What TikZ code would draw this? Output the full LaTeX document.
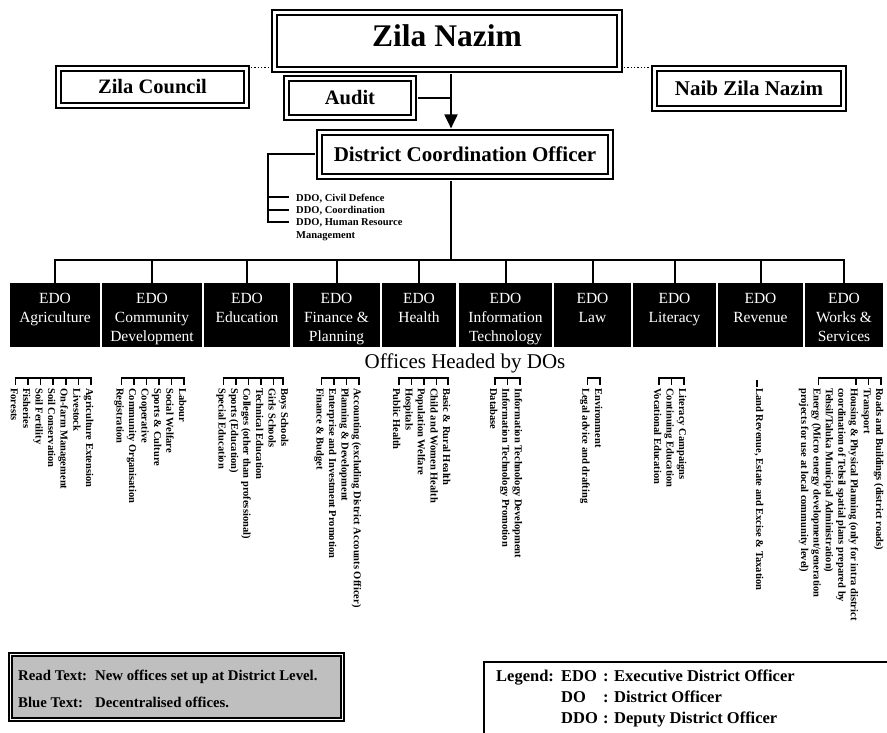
\documentclass[tikz,border=0pt]{standalone}
\usepackage{fontspec}
\setmainfont{Liberation Serif}
\usetikzlibrary{arrows.meta}
\begin{document}
\begin{tikzpicture}[x=1pt,y=-1pt,
  dbox/.style={draw=black, double=white, line width=2.2pt, double distance=2.6pt, fill=white, inner sep=0pt,
    text height=14pt, text depth=0pt, font=\bfseries\fontsize{21}{24}\selectfont},
  edobox/.style={fill=black, draw=none, minimum height=64pt, inner sep=0pt},
  edotext/.style={text=white, align=center, anchor=north, inner sep=0pt, font=\fontsize{15.5}{19}\selectfont},
  conn/.style={line width=2pt},
  brk/.style={line width=1.6pt},
  item/.style={rotate=-90, anchor=north west, inner sep=0pt, align=left, font=\bfseries\fontsize{10.5}{12.5}\selectfont},
  ddotext/.style={anchor=north west, inner sep=0pt, align=left, font=\bfseries\fontsize{10.5}{12.5}\selectfont},
  notetext/.style={anchor=base west, inner sep=0pt, font=\bfseries\fontsize{14.8}{17}\selectfont},
  legtext/.style={anchor=base west, inner sep=0pt, font=\bfseries\fontsize{16.5}{20}\selectfont}
]
\useasboundingbox (0,0) rectangle (887,733);
\fill[white] (0,0) rectangle (887,733);

% ---- top boxes ----
\node[dbox, minimum width=345pt, minimum height=57pt, text height=21pt, text depth=9pt,
      font=\bfseries\fontsize{31.5}{36}\selectfont] (zn) at (447,41) {Zila Nazim};
\node[dbox, minimum width=188pt, minimum height=37pt, font=\bfseries\fontsize{20.5}{24}\selectfont] (zc) at (152.5,87) {Zila Council};
\node[dbox, minimum width=127pt, minimum height=39pt, font=\bfseries\fontsize{20.5}{24}\selectfont] (audit) at (350,98) {Audit};
\node[dbox, minimum width=189pt, minimum height=40pt] (nzn) at (749,88.5) {Naib Zila Nazim};
\node[dbox, minimum width=291pt, minimum height=44pt] (dco) at (465,154.5) {District Coordination Officer};

\coordinate (ax) at (451,73);
\coordinate (bus) at (451,260);

\draw[dotted, line width=1.3pt, shorten <=3.5pt, shorten >=3.5pt] (zc.north east) -- (zc.north east -| zn.west);
\draw[dotted, line width=1.3pt, shorten <=3.5pt, shorten >=3.5pt] (zn.east |- nzn.north) -- (nzn.north west);
\draw[conn, shorten <=3.5pt, shorten >=3pt, -{Triangle[length=14pt,width=13pt]}] (zn.south -| ax) -- (dco.north -| ax);
\draw[conn, shorten <=3.5pt] (audit.east) -- (audit.east -| ax);
\draw[conn, shorten <=3.5pt] (dco.south -| ax) -- (bus);

% ---- DDO list ----
\draw[conn, shorten <=3.5pt] (dco.west) -| (268,222) -- (289,222);
\draw[conn] (268,197) -- (289,197);
\draw[conn] (268,210) -- (289,210);
\node[ddotext] (ddo1) at (296,193.5) {DDO, Civil Defence};
\node[ddotext] (ddo2) at (296,206.5) {DDO, Coordination};
\node[ddotext] (ddo3) at (296,218.5) {DDO, Human Resource\\Management};

% ---- EDO boxes ----
\node[edobox, minimum width=90pt] (e1) at (55,315) {};
\node[edobox, minimum width=100pt] (e2) at (152,315) {};
\node[edobox, minimum width=86pt] (e3) at (247,315) {};
\node[edobox, minimum width=87pt] (e4) at (336.5,315) {};
\node[edobox, minimum width=74pt] (e5) at (419,315) {};
\node[edobox, minimum width=93pt] (e6) at (505.5,315) {};
\node[edobox, minimum width=77pt] (e7) at (592.5,315) {};
\node[edobox, minimum width=83pt] (e8) at (674.5,315) {};
\node[edobox, minimum width=85pt] (e9) at (760.5,315) {};
\node[edobox, minimum width=78pt] (e10) at (844,315) {};

\node[edotext] (t1) at (55,293) {EDO\\Agriculture};
\node[edotext] (t2) at (152,293) {EDO\\Community\\Development};
\node[edotext] (t3) at (247,293) {EDO\\Education};
\node[edotext] (t4) at (336.5,293) {EDO\\Finance \&\\Planning};
\node[edotext] (t5) at (419,293) {EDO\\Health};
\node[edotext] (t6) at (505.5,293) {EDO\\Information\\Technology};
\node[edotext] (t7) at (592.5,293) {EDO\\Law};
\node[edotext] (t8) at (674.5,293) {EDO\\Literacy};
\node[edotext] (t9) at (760.5,293) {EDO\\Revenue};
\node[edotext] (t10) at (844,293) {EDO\\Works \&\\Services};

\draw[conn] (e1.north) -- (e1.north |- bus) -- (e10.north |- bus) -- (e10.north);
\foreach \b in {e2,e3,e4,e5,e6,e7,e8,e9}{\draw[conn] (\b.north |- bus) -- (\b.north);}

\node[anchor=base, inner sep=0pt, font=\fontsize{21}{24}\selectfont] (offices) at (465,368.5) {Offices Headed by DOs};

% ---- lists of offices ----
% Agriculture
\draw[brk] (15.4,385) -- (15.4,378) -- (91,378) -- (91,385);
\foreach \c in {28,40.6,53.2,65.8,78.4}{\draw[brk] (\c,378) -- (\c,385);}
\node[item] (a1) at (93.5,388) {Agriculture Extension};
\node[item] (a2) at (80.9,388) {Livestock};
\node[item] (a3) at (68.3,388) {On-farm Management};
\node[item] (a4) at (55.7,388) {Soil Conservation};
\node[item] (a5) at (43.1,388) {Soil Fertility};
\node[item] (a6) at (30.5,388) {Fisheries};
\node[item] (a7) at (17.9,388) {Forests};
% Community
\draw[brk] (121.5,385) -- (121.5,378) -- (184,378) -- (184,385);
\foreach \c in {134,146.5,159,171.5}{\draw[brk] (\c,378) -- (\c,385);}
\node[item] (c1) at (186.5,388) {Labour};
\node[item] (c2) at (174,388) {Social Welfare};
\node[item] (c3) at (161.5,388) {Sports \& Culture};
\node[item] (c4) at (149,388) {Cooperative};
\node[item] (c5) at (136.5,388) {Community Organisation};
\node[item] (c6) at (124,388) {Registration};
% Education
\draw[brk] (223.5,385) -- (223.5,378) -- (283,378) -- (283,385);
\foreach \c in {236,248.5,261,273.5}{\draw[brk] (\c,378) -- (\c,385);}
\node[item] (d1) at (288.5,388) {Boys Schools};
\node[item] (d2) at (276,388) {Girls Schools};
\node[item] (d3) at (263.5,388) {Technical Education};
\node[item] (d4) at (251,388) {Colleges (other than professional)};
\node[item] (d5) at (238.5,388) {Sports (Education)};
\node[item] (d6) at (226,388) {Special Education};
% Finance
\draw[brk] (321.5,385) -- (321.5,378) -- (359,378) -- (359,385);
\foreach \c in {334,346.5}{\draw[brk] (\c,378) -- (\c,385);}
\node[item] (f1) at (361.5,388) {Accounting (excluding District Accounts Officer)};
\node[item] (f2) at (349,388) {Planning \& Development};
\node[item] (f3) at (336.5,388) {Enterprise and Investment Promotion};
\node[item] (f4) at (324,388) {Finance \& Budget};
% Health
\draw[brk] (399,385) -- (399,378) -- (448,378) -- (448,385);
\foreach \c in {411.5,424,436.5}{\draw[brk] (\c,378) -- (\c,385);}
\node[item] (h1) at (450.5,388) {Basic \& Rural Health};
\node[item] (h2) at (438,388) {Child and Women Health};
\node[item] (h3) at (425.5,388) {Population Welfare};
\node[item] (h4) at (413,388) {Hospitals};
\node[item] (h5) at (400.5,388) {Public Health};
% IT
\draw[brk] (495,385) -- (495,378) -- (520,378) -- (520,385);
\draw[brk] (507.5,378) -- (507.5,385);
\node[item] (i1) at (522.5,388) {Information Technology Development};
\node[item] (i2) at (510,388) {Information Technology Promotion};
\node[item] (i3) at (497.5,388) {Database};
% Law
\draw[brk] (587.5,385) -- (587.5,378) -- (600,378) -- (600,385);
\node[item] (l1) at (602.5,388) {Environment};
\node[item] (l2) at (590,388) {Legal advice and drafting};
% Literacy
\draw[brk] (659,385) -- (659,378) -- (684,378) -- (684,385);
\draw[brk] (671.5,378) -- (671.5,385);
\node[item] (y1) at (686.5,388) {Literacy Campaigns};
\node[item] (y2) at (674,388) {Continuing Education};
\node[item] (y3) at (661.5,388) {Vocational Education};
% Revenue
\draw[brk] (757,380) -- (757,387);
\node[item] (r1) at (763.5,388) {Land Revenue, Estate and Excise \& Taxation};
% Works
\draw[brk] (818.5,385) -- (818.5,378) -- (881,378) -- (881,385);
\foreach \c in {868.5,856}{\draw[brk] (\c,378) -- (\c,385);}
\node[item] (w1) at (883.5,388) {Roads and Buildings (district roads)};
\node[item] (w2) at (871,388) {Transport};
\node[item] (w3) at (858.5,388) {Housing \& Physical Planning (only for intra district\\coordination of Tehsil spatial plans prepared by\\Tehsil/Taluka Municipal Administration)};
\node[item] (w4) at (821,388) {Energy (Micro energy development/generation\\projects for use at local community level)};

% ---- note box ----
\node[draw=black, double=white, line width=1.8pt, double distance=1.2pt, fill=black!25,
      minimum width=332pt, minimum height=65pt, inner sep=0pt] (gbox) at (176.5,687) {};
\node[notetext] (n1) at (18,680) {Read Text:};
\node[notetext] (n2) at (95,680) {New offices set up at District Level.};
\node[notetext] (n3) at (18,707) {Blue Text:};
\node[notetext] (n4) at (95,707) {Decentralised offices.};

% ---- legend ----
\coordinate (lg) at (484,662);
\draw[line width=1.5pt] (887,662) -- (lg) -- (484,733);
\node[legtext] (g0) at (496,681) {Legend:};
\node[legtext] (g1) at (561,681) {EDO};
\node[legtext] (g2) at (603,681) {: Executive District Officer};
\node[legtext] (g3) at (561,702) {DO};
\node[legtext] (g4) at (603,702) {: District Officer};
\node[legtext] (g5) at (561,723) {DDO};
\node[legtext] (g6) at (603,723) {: Deputy District Officer};
\end{tikzpicture}
\end{document}
